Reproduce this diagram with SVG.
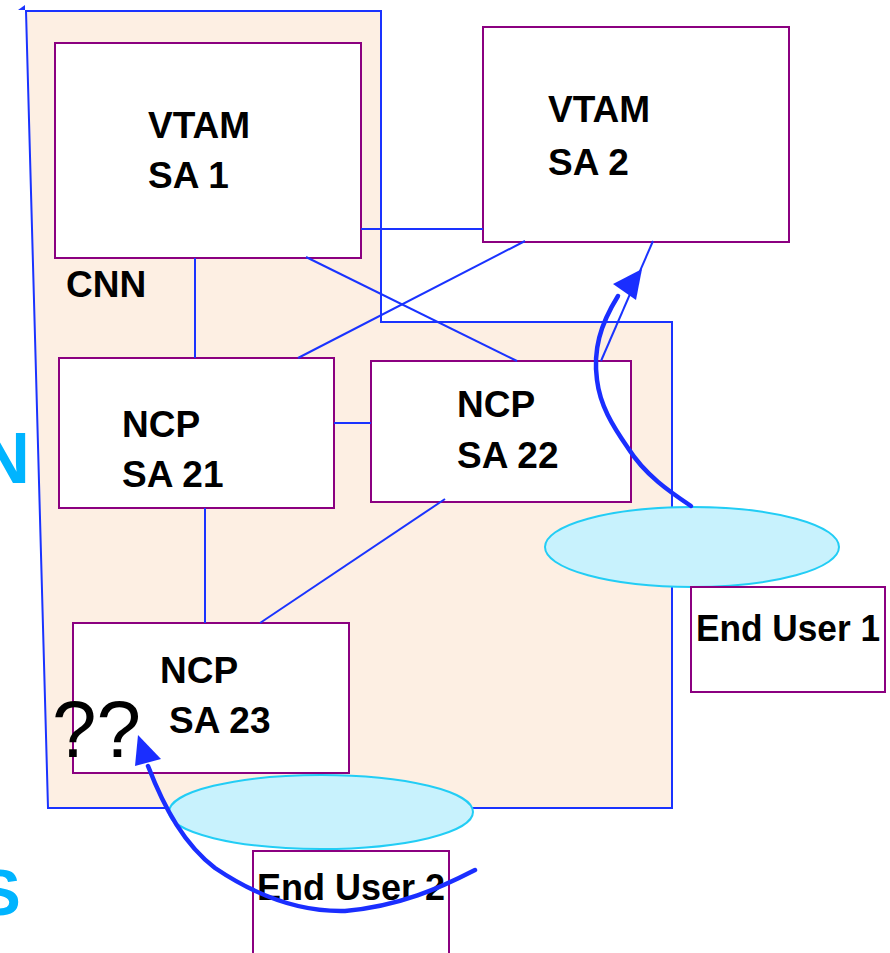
<svg xmlns="http://www.w3.org/2000/svg" width="890" height="953" viewBox="0 0 890 953">
<defs>
<style>
.box{fill:#ffffff;stroke:#8b0080;stroke-width:2}
.lbl{font-family:"Liberation Sans",Arial,sans-serif;font-weight:bold;font-size:37px;fill:#000}
.conn{stroke:#1a33ff;stroke-width:2;fill:none}
.arrow{stroke:#1a2eff;stroke-width:4.5;fill:none;stroke-linecap:round;stroke-linejoin:round}
.head{fill:#1a2eff}
.ell{fill:#c8f2fd;stroke:#22cdf5;stroke-width:2}
.cut{font-family:"Liberation Sans",Arial,sans-serif;font-weight:bold;fill:#00b4ff}
</style>
</defs>
<rect width="890" height="953" fill="#ffffff"/>
<text class="cut" x="-22" y="483" font-size="72">N</text>
<text class="cut" x="-22" y="915" font-size="64">S</text>
<g id="cnn-region">
<polygon points="26,11 381,11 381,322 672,322 672,808 48,808" fill="#fdefe3" stroke="#1a33ff" stroke-width="2"/>
<polygon points="25,5 18,10 25,10" fill="#1a33ff"/>
<text class="lbl" x="66" y="297" font-size="30">CNN</text>
</g>
<g id="vtam1">
<rect class="box" x="55" y="43" width="306" height="215"/>
<text class="lbl" x="148" y="138">VTAM</text>
<text class="lbl" x="148" y="188">SA 1</text>
</g>
<g id="vtam2">
<rect class="box" x="483" y="27" width="306" height="215"/>
<text class="lbl" x="548" y="122">VTAM</text>
<text class="lbl" x="548" y="175">SA 2</text>
</g>
<g id="ncp21">
<rect class="box" x="59" y="358" width="275" height="150"/>
<text class="lbl" x="122" y="437">NCP</text>
<text class="lbl" x="122" y="487">SA 21</text>
</g>
<g id="ncp22">
<rect class="box" x="371" y="361" width="260" height="141"/>
<text class="lbl" x="457" y="417">NCP</text>
<text class="lbl" x="457" y="468">SA 22</text>
</g>
<g id="ncp23">
<rect class="box" x="73" y="623" width="276" height="150"/>
<text class="lbl" x="160" y="683">NCP</text>
<text class="lbl" x="169" y="733">SA 23</text>
</g>
<g id="connectors">
<line class="conn" x1="361" y1="229" x2="483" y2="229"/>
<line class="conn" x1="195" y1="258" x2="195" y2="358"/>
<line class="conn" x1="525" y1="241" x2="298" y2="358"/>
<line class="conn" x1="306" y1="257" x2="517" y2="361"/>
<line class="conn" x1="653" y1="241" x2="601" y2="361"/>
<line class="conn" x1="334" y1="423" x2="371" y2="423"/>
<line class="conn" x1="205" y1="508" x2="205" y2="623"/>
<line class="conn" x1="445" y1="499" x2="260" y2="623"/>
</g>
<g id="user1">
<ellipse class="ell" cx="692" cy="547" rx="147" ry="40"/>
<rect class="box" x="691" y="587" width="194" height="105"/>
<text class="lbl" x="696" y="641" font-size="36" textLength="184" lengthAdjust="spacingAndGlyphs">End User 1</text>
</g>
<g id="user2">
<ellipse class="ell" cx="321" cy="812" rx="152" ry="37"/>
<rect class="box" x="253" y="851" width="196" height="110"/>
<text class="lbl" x="257" y="900" font-size="36" textLength="188" lengthAdjust="spacingAndGlyphs">End User 2</text>
</g>
<g id="question">
<text x="52" y="757" font-family="'Liberation Sans',Arial,sans-serif" font-size="80" fill="#000">??</text>
</g>
<g id="arrows">
<path class="arrow" d="M691,506 C670,492 645,475 628,448 C612,425 600,405 597,380 C593,350 600,325 618,296"/>
<polygon class="head" points="642,269 613,284 636,300"/>
<path class="arrow" d="M475,870 C440,888 400,906 345,911 C300,912 255,895 215,868 C185,845 165,810 148,766"/>
<polygon class="head" points="138,735 135,766 161,759"/>
</g>
</svg>
